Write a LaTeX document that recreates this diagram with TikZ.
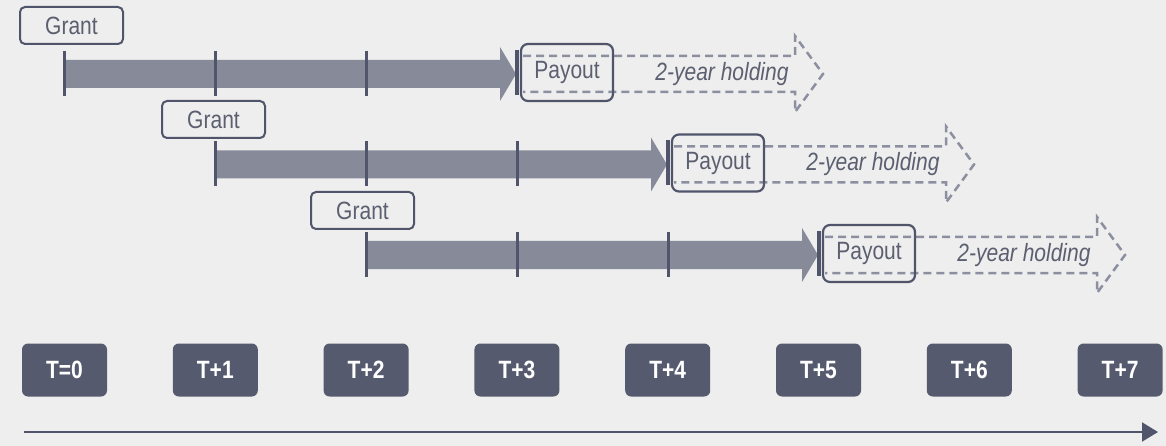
\documentclass[tikz,border=0pt]{standalone}
\usepackage{fontspec}
\setmainfont{Liberation Sans}
\newfontfamily\nf[FakeStretch=0.84]{Liberation Sans}
\usetikzlibrary{arrows.meta}
\definecolor{bg}{HTML}{EEEEEE}
\definecolor{barc}{HTML}{868A99}
\definecolor{dark}{HTML}{50556B}
\definecolor{dashc}{HTML}{8C8FA0}
\definecolor{txt}{HTML}{5B5F70}
\definecolor{tbox}{HTML}{555A6E}
\begin{document}
\begin{tikzpicture}[x=1pt,y=-1pt,
 grantbox/.style={draw=dark,line width=2pt,rounded corners=5pt,fill=bg,minimum width=103pt,minimum height=37pt,inner sep=0pt,font=\nf\fontsize{25}{25}\selectfont,text=txt},
 payoutbox/.style={draw=dark,line width=2.2pt,rounded corners=7pt,minimum width=92pt,minimum height=57pt,inner sep=0pt},
 labeltext/.style={font=\nf\fontsize{25}{25}\selectfont,text=txt,inner sep=0pt},
 holdtext/.style={font=\nf\itshape\fontsize{25}{25}\selectfont,text=txt,inner sep=0pt},
 tlabel/.style={fill=tbox,rounded corners=6pt,minimum width=85pt,minimum height=53pt,inner sep=0pt,text=white,font=\nf\bfseries\fontsize{25}{25}\selectfont},
 tickline/.style={draw=dark,line width=3pt},
 dasharrow/.style={draw=dashc,line width=2.5pt,dash pattern=on 8pt off 5pt}]
\useasboundingbox[fill=bg] (0,0) rectangle (1166,446);
\foreach \r/\gx/\gy in {0/71.5/25.5,1/213.5/119.5,2/362.5/210.5}{
  \pgfmathsetmacro{\xo}{64+151*\r}
  \pgfmathsetmacro{\c}{74+90.5*\r}
  % bar
  \fill[barc] (\xo,\c-14) -- (\xo+436,\c-14) -- (\xo+436,\c-27) -- (\xo+452,\c) -- (\xo+436,\c+27) -- (\xo+436,\c+14) -- (\xo,\c+14) -- cycle;
  % ticks
  \foreach \k in {0,1,2}{
    \coordinate (ta\r\k) at (\xo+151*\k,\c-23);
    \coordinate (tb\r\k) at (\xo+151*\k,\c+22);
    \draw[tickline] (ta\r\k) -- (tb\r\k);
  }
  \coordinate (ea\r) at (\xo+453,\c-24);
  \coordinate (eb\r) at (\xo+453,\c+21);
  \draw[dark,line width=4pt] (ea\r) -- (eb\r);
  % dashed holding arrow
  \draw[dasharrow,line join=miter] (\xo+459,\c-18) -- (\xo+731,\c-18) -- (\xo+731,\c-38) -- (\xo+759,\c) -- (\xo+731,\c+38) -- (\xo+731,\c+18) -- (\xo+459,\c+18);
  \node[payoutbox] (pay\r) at (\xo+503,\c-1.5) {};
  \node[labeltext] (paytext\r) at (pay\r) {Payout};
  \node[holdtext] (hold\r) at (\xo+658,\c) {2-year holding};
  \node[grantbox] (grant\r) at (\gx,\gy) {Grant};
}
\foreach \k/\t in {0/T=0,1/T+1,2/T+2,3/T+3,4/T+4,5/T+5,6/T+6,7/T+7}{
  \node[tlabel] (t\k) at (64.5+150.8*\k,370) {\t};
}
\coordinate (axs) at (24,432);
\coordinate (axe) at (1158,432);
\draw[dark,line width=2pt,-{Triangle[length=16pt,width=19pt]}] (axs) -- (axe);
\end{tikzpicture}
\end{document}
